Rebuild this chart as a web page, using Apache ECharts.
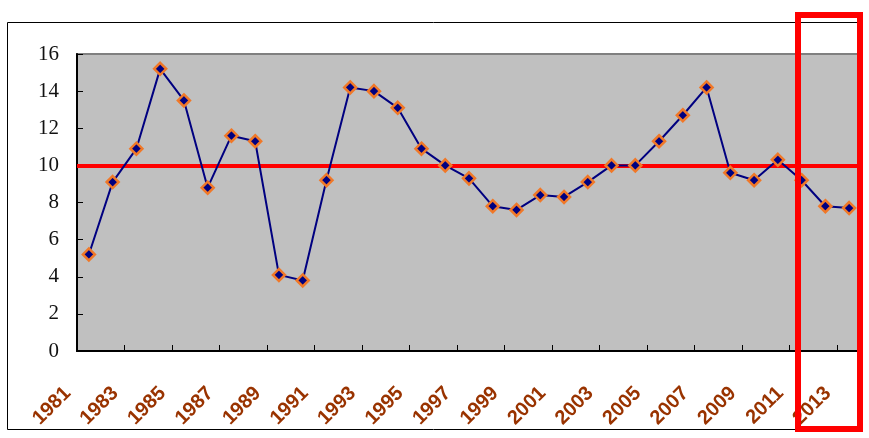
<!DOCTYPE html>
<html>
<head>
<meta charset="utf-8">
<script src="https://cdn.jsdelivr.net/npm/echarts@6/dist/echarts.min.js"></script>
<style>
html,body{margin:0;padding:0;background:#fff;}
#c{width:869px;height:438px;}
</style>
</head>
<body>
<div id="c"></div>
<script>
const years = ['1981','1982','1983','1984','1985','1986','1987','1988','1989','1990','1991','1992','1993','1994','1995','1996','1997','1998','1999','2000','2001','2002','2003','2004','2005','2006','2007','2008','2009','2010','2011','2012','2013'];
const values = [5.2,9.1,10.9,15.2,13.5,8.8,11.6,11.3,4.1,3.8,9.2,14.2,14.0,13.1,10.9,10.0,9.3,7.8,7.6,8.4,8.3,9.1,10.0,10.0,11.3,12.7,14.2,9.6,9.2,10.3,9.2,7.8,7.7];
const referenceLevel = 10;
const yMin = 0, yMax = 16, yStep = 2;

const chart = echarts.init(document.getElementById('c'), null, {renderer:'canvas'});
chart.setOption({
  animation:false,
  backgroundColor:'#ffffff',
  grid:{left:77, right:8, top:54, bottom:87, show:true, backgroundColor:'#C0C0C0', borderColor:'#808080', borderWidth:2},
  xAxis:{
    type:'category', data:years, boundaryGap:true,
    axisLine:{show:true, lineStyle:{color:'#000', width:2}},
    axisTick:{show:true, inside:true, length:6, lineStyle:{color:'#000', width:1}},
    axisLabel:{interval:1, rotate:45, margin:18, padding:[0,30,0,0], color:'#993300', fontFamily:'Liberation Sans, Arial, sans-serif', fontWeight:'bold', fontSize:20},
    splitLine:{show:false}
  },
  yAxis:{
    type:'value', min:yMin, max:yMax, interval:yStep,
    axisLine:{show:true, lineStyle:{color:'#000', width:2}},
    axisTick:{show:true, inside:true, length:6, lineStyle:{color:'#000', width:1}},
    axisLabel:{margin:18, color:'#111', fontFamily:'Liberation Serif, DejaVu Serif, serif', fontSize:21},
    splitLine:{show:false}
  },
  series:[{
    type:'line', data:values,
    symbol:'diamond', symbolSize:12,
    lineStyle:{color:'#000080', width:2},
    itemStyle:{color:'#000080', borderColor:'#F07828', borderWidth:2.5},
    z:3,
    markLine:{
      silent:true, symbol:['none','none'], label:{show:false},
      lineStyle:{color:'#FF0000', width:4, type:'solid'},
      data:[{yAxis:referenceLevel}],
      z:2
    }
  }],
  graphic:[
    {type:'rect', shape:{x:7.5, y:22.5, width:852, height:407}, style:{fill:'none', stroke:'#000', lineWidth:1}, z:-10, silent:true},
    {type:'rect', shape:{x:798, y:15, width:62, height:414}, style:{fill:'none', stroke:'#FF0000', lineWidth:6}, z:100, silent:true}
  ]
});
</script>
</body>
</html>
